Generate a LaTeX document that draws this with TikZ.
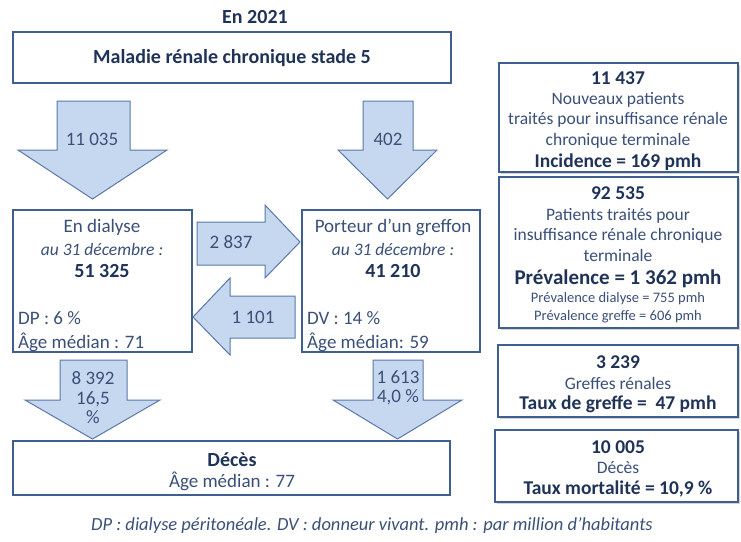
\documentclass[tikz,border=0pt]{standalone}
\usepackage{fontspec}
\setmainfont{Carlito}
\definecolor{txt}{HTML}{3A5078}
\definecolor{txtb}{HTML}{1F3358}
\definecolor{bord}{HTML}{3F5F8F}
\definecolor{afill}{HTML}{C6D8EF}
\definecolor{aline}{HTML}{5A78A8}
\usetikzlibrary{shadows}
\tikzset{
  box/.style={draw=bord, line width=1.6pt, fill=white},
  sbox/.style={draw=bord, line width=1.8pt, fill=white, drop shadow={shadow xshift=1.5pt, shadow yshift=-1.5pt, opacity=0.35}},
  blk/.style={draw=aline, line width=1pt, fill=afill, line join=miter},
  t/.style={text=txt, font=\fontsize{19}{21}\selectfont, inner sep=0pt},
  tb/.style={text=txtb, font=\fontsize{20}{22}\selectfont\bfseries, inner sep=0pt},
  ti/.style={text=txt, font=\fontsize{17.5}{19}\selectfont\itshape, inner sep=0pt},
  rt/.style={text=txt, font=\fontsize{17.5}{20.5}\selectfont, inner sep=0pt, align=center},
  rb/.style={text=txtb, font=\fontsize{19.5}{21}\selectfont\bfseries, inner sep=0pt},
}
\newcommand{\blkdown}[8]{% name, xl, xr, ytop, yhead, hxl, hxr, ytip
  \path[blk] (#2,#4) -- (#3,#4) -- (#3,#5) -- (#7,#5) -- ({(#6+#7)/2},#8) coordinate (#1tip) -- (#6,#5) -- (#2,#5) -- cycle;
  \coordinate (#1c) at ({(#2+#3)/2},{(#4+#5)/2});}
\begin{document}
\begin{tikzpicture}[x=1pt,y=-1pt]
\useasboundingbox (0,0) rectangle (741,541);
% title
\node[tb] (title) at (255,17) {En 2021};
\path[box] (13,32) rectangle (451,83);
\node[tb] (mrc) at (232,58) {Maladie rénale chronique stade 5};
% top down arrows
\blkdown{a1}{57}{130}{101}{150}{18}{167}{199}
\node[t] (a1t) at (92,139) {11 035};
\blkdown{a2}{363}{413}{101}{150}{338}{437}{199}
\node[t] (a2t) at (388,139) {402};
% middle boxes
\path[box] (13,210) rectangle (192,352);
\path[box] (302,210) rectangle (480,352);
\node[t] (dia1) at (102,227) {En dialyse};
\node[ti] (dia2) at (102,249) {au 31 décembre :};
\node[tb] (dia3) at (102,271) {51 325};
\node[t, anchor=west] (dia4) at (18,318) {DP : 6 \%};
\node[t, anchor=west] (dia5) at (18,342) {Âge médian : 71};
\node[t] (gr1) at (393,227) {Porteur d’un greffon};
\node[ti] (gr2) at (393,249) {au 31 décembre :};
\node[tb] (gr3) at (393,271) {41 210};
\node[t, anchor=west] (gr4) at (307,318) {DV : 14 \%};
\node[t, anchor=west] (gr5) at (307,342) {Âge médian: 59};
% horizontal arrows
\path[blk] (197,222) -- (265,222) -- (265,205) -- (300,242) -- (265,278) -- (265,265) -- (197,265) -- cycle;
\node[t] (h1) at (231,242) {2 837};
\path[blk] (295,296) -- (230,296) -- (230,278) -- (193,317) -- (230,355) -- (230,338) -- (295,338) -- cycle;
\node[t] (h2) at (253,317) {1 101};
% bottom arrows
\blkdown{b1}{60}{127}{360}{400}{25}{160}{439}
\node[t, align=center, font=\fontsize{19}{19.5}\selectfont] (b1t) at (93,398) {8 392\\16,5\\\%};
\blkdown{b2}{373}{423}{360}{400}{333}{462}{439}
\node[t, align=center, font=\fontsize{19}{19.5}\selectfont] (b2t) at (398,388) {1 613\\4,0 \%};
% deces box
\path[box] (13,441) rectangle (450,495);
\node[tb] (dc1) at (232,460) {Décès};
\node[t] (dc2) at (232,481) {Âge médian : 77};
% footnote
\node[ti, font=\fontsize{18.5}{20}\selectfont\itshape] (foot) at (372,526) {DP : dialyse péritonéale. DV : donneur vivant. pmh : par million d’habitants};
% right boxes
\path[sbox] (499,63) rectangle (738,172);
\path[sbox] (499,177) rectangle (738,328);
\path[sbox] (498,345) rectangle (738,417);
\path[sbox] (495,430) rectangle (738,502);
\node[rb] (r1a) at (618,78) {11 437};
\node[rt] (r1b) at (618,120) {Nouveaux patients\\traités pour insuffisance rénale\\chronique terminale};
\node[rb] (r1c) at (618,162) {Incidence = 169 pmh};
\node[rb] (r2a) at (618,193) {92 535};
\node[rt] (r2b) at (618,235) {Patients traités pour\\insuffisance rénale chronique\\terminale};
\node[rb, font=\fontsize{21}{22}\selectfont\bfseries] (r2c) at (618,279) {Prévalence = 1 362 pmh};
\node[rt, font=\fontsize{14.5}{17.5}\selectfont] (r2d) at (618,307.5) {Prévalence dialyse = 755 pmh\\Prévalence greffe = 606 pmh};
\node[rb] (r3a) at (618,362) {3 239};
\node[rt] (r3b) at (618,383) {Greffes rénales};
\node[rb] (r3c) at (618,404) {Taux de greffe =\ \ 47 pmh};
\node[rb] (r4a) at (618,447) {10 005};
\node[rt] (r4b) at (618,468) {Décès};
\node[rb] (r4c) at (618,489) {Taux mortalité = 10,9 \%};
\end{tikzpicture}
\end{document}
